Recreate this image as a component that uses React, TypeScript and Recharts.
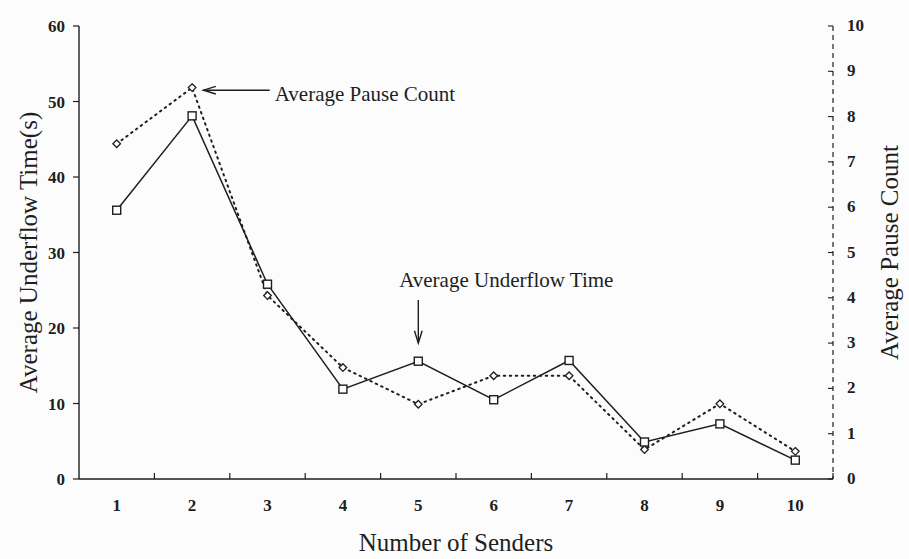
import { LineChart, Line, XAxis, YAxis, ReferenceLine } from 'recharts'

const senders = [1, 2, 3, 4, 5, 6, 7, 8, 9, 10]
const underflowTime = [35.6, 48.1, 25.8, 11.9, 15.6, 10.5, 15.7, 4.9, 7.3, 2.5]
const pauseCount = [7.4, 8.64, 4.05, 2.46, 1.65, 2.28, 2.28, 0.65, 1.66, 0.61]
const leftTicks = [0, 10, 20, 30, 40, 50, 60]
const rightTicks = [0, 1, 2, 3, 4, 5, 6, 7, 8, 9, 10]

const data = senders.map((s, i) => ({
  senders: s,
  underflow: underflowTime[i],
  pause: pauseCount[i],
}))

const W = 909
const H = 559
const LEFT_W = 79
const RIGHT_W = 76
const X_H = 80
const TOP = 26
const HALF_BAND = (W - LEFT_W - RIGHT_W) / senders.length / 2
const INK = '#1e1e1e'
const FONT = '"Liberation Serif", "Times New Roman", serif'

function SquareDot({ cx, cy }: any) {
  if (cx == null || cy == null) return null
  return <rect x={cx - 4} y={cy - 4} width={8} height={8} fill="#fff" stroke={INK} strokeWidth={1.4} />
}

function DiamondDot({ cx, cy }: any) {
  if (cx == null || cy == null) return null
  return (
    <path
      d={`M${cx},${cy - 3.8} L${cx + 3.8},${cy} L${cx},${cy + 3.8} L${cx - 3.8},${cy} Z`}
      fill="#fff"
      stroke={INK}
      strokeWidth={1.3}
    />
  )
}

function XTick({ x, y, payload }: any) {
  return (
    <g>
      <text x={x} y={y + 32} textAnchor="middle" fontFamily={FONT} fontWeight="bold" fontSize={17} fill={INK}>
        {payload.value}
      </text>
      <line x1={x + HALF_BAND} y1={y} x2={x + HALF_BAND} y2={y - 6} stroke={INK} strokeWidth={1.2} />
    </g>
  )
}

function RightTick({ x, y, payload }: any) {
  return (
    <g>
      <line x1={x - 14} y1={y} x2={x - 19} y2={y} stroke={INK} strokeWidth={1.1} />
      <text x={x} y={y + 5} textAnchor="start" fontFamily={FONT} fontWeight="bold" fontSize={17} fill={INK}>
        {payload.value}
      </text>
    </g>
  )
}

function arrowHead(x1: number, y1: number, x2: number, y2: number) {
  const a = Math.atan2(y2 - y1, x2 - x1)
  const l = 13
  const s = 0.3
  const p1 = [x2 - l * Math.cos(a - s), y2 - l * Math.sin(a - s)]
  const p2 = [x2 - l * Math.cos(a + s), y2 - l * Math.sin(a + s)]
  return `M${p1[0]},${p1[1]} L${x2},${y2} L${p2[0]},${p2[1]}`
}

function PauseArrow({ x1, y1, x2, y2 }: any) {
  return (
    <g>
      <line x1={x1} y1={y1} x2={x2} y2={y2} stroke={INK} strokeWidth={1.4} />
      <path d={arrowHead(x1, y1, x2, y2)} fill="none" stroke={INK} strokeWidth={1.4} />
      <text x={x1 + 5} y={y1 + 11} fontFamily={FONT} fontSize={21} fill={INK}>
        Average Pause Count
      </text>
    </g>
  )
}

function UnderflowArrow({ x1, y1, x2, y2 }: any) {
  return (
    <g>
      <line x1={x1} y1={y1} x2={x2} y2={y2} stroke={INK} strokeWidth={1.4} />
      <path d={arrowHead(x1, y1, x2, y2)} fill="none" stroke={INK} strokeWidth={1.4} />
      <text x={x1 + 88} y={y1 - 13} textAnchor="middle" fontFamily={FONT} fontSize={21} fill={INK}>
        Average Underflow Time
      </text>
    </g>
  )
}

export default function App() {
  return (
    <div style={{ position: 'absolute', left: 0, top: 0, width: W, height: H, background: '#fcfcfc' }}>
      <LineChart width={W} height={H} data={data} margin={{ top: TOP, right: 0, bottom: 0, left: 0 }}>
        <XAxis
          dataKey="senders"
          type="number"
          domain={[0.5, 10.5]}
          ticks={senders}
          allowDataOverflow
          height={X_H}
          tickLine={false}
          tickSize={0}
          tickMargin={0}
          tick={<XTick />}
          axisLine={{ stroke: INK, strokeWidth: 1.4 }}
          label={{ value: 'Number of Senders', position: 'center', dy: 23, fontFamily: FONT, fontSize: 25, fill: INK }}
        />
        <YAxis
          yAxisId="left"
          domain={[0, 60]}
          ticks={leftTicks}
          width={LEFT_W}
          tickSize={6}
          tickMargin={8}
          tick={{ fontFamily: FONT, fontWeight: 'bold', fontSize: 17, fill: INK }}
          tickLine={{ stroke: INK, strokeWidth: 1.2 }}
          axisLine={{ stroke: INK, strokeWidth: 1.4 }}
          label={{ value: 'Average Underflow Time(s)', angle: -90, position: 'center', dx: -11, fontFamily: FONT, fontSize: 25, fill: INK }}
        />
        <YAxis
          yAxisId="right"
          orientation="right"
          domain={[0, 10]}
          ticks={rightTicks}
          width={RIGHT_W}
          tickLine={false}
          tickSize={0}
          tickMargin={14}
          tick={<RightTick />}
          axisLine={{ stroke: INK, strokeWidth: 1.2, strokeDasharray: '5 4' }}
          label={{ value: 'Average Pause Count', angle: -90, position: 'center', dx: 18, fontFamily: FONT, fontSize: 25, fill: INK }}
        />
        <Line
          yAxisId="right"
          dataKey="pause"
          stroke={INK}
          strokeWidth={2}
          strokeDasharray="1.5 4.5"
          strokeLinecap="round"
          dot={<DiamondDot />}
          activeDot={false}
          isAnimationActive={false}
        />
        <Line
          yAxisId="left"
          dataKey="underflow"
          stroke={INK}
          strokeWidth={1.5}
          dot={<SquareDot />}
          activeDot={false}
          isAnimationActive={false}
        />
        <ReferenceLine
          yAxisId="left"
          segment={[{ x: 3.03, y: 51.5 }, { x: 2.15, y: 51.5 }]}
          shape={<PauseArrow />}
          ifOverflow="visible"
        />
        <ReferenceLine
          yAxisId="left"
          segment={[{ x: 5, y: 23.7 }, { x: 5, y: 18.0 }]}
          shape={<UnderflowArrow />}
          ifOverflow="visible"
        />
      </LineChart>
    </div>
  )
}
